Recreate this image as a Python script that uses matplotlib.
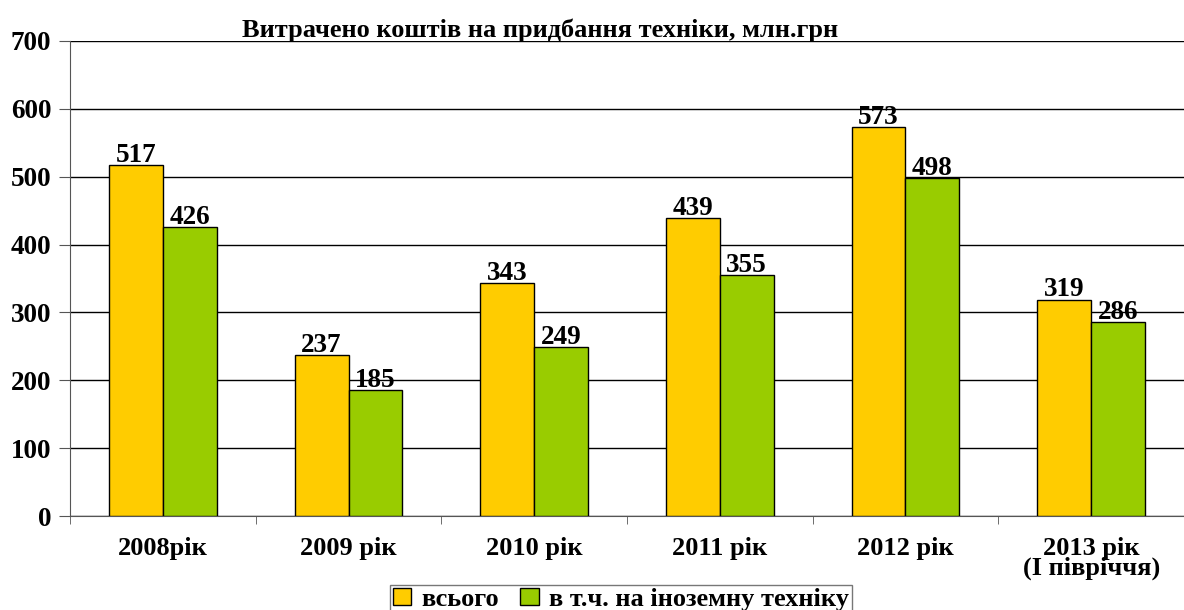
import numpy as np
import matplotlib
matplotlib.use("Agg")
import matplotlib.pyplot as plt

categories = ["2008рік", "2009 рік", "2010 рік", "2011 рік", "2012 рік", "2013 рік\n(І півріччя)"]
total = [517, 237, 343, 439, 573, 319]
foreign = [426, 185, 249, 355, 498, 286]
series_names = ["всього", "в т.ч. на іноземну техніку"]

plt.rcParams['font.family'] = ['Liberation Serif', 'DejaVu Serif']
plt.rcParams['font.weight'] = 'bold'

fig = plt.figure(figsize=(11.84, 6.10), dpi=100)
ax = fig.add_axes([70 / 1184, 1 - 516 / 610, 1 - 70 / 1184, (516 - 41) / 610])

x = np.arange(len(categories))
w = 0.29
b1 = ax.bar(x - w / 2, total, w, color='#FFCC00', edgecolor='black', linewidth=1, label=series_names[0], zorder=3)
b2 = ax.bar(x + w / 2, foreign, w, color='#99CC00', edgecolor='black', linewidth=1, label=series_names[1], zorder=3)

for bars, vals in ((b1, total), (b2, foreign)):
    for r, v in zip(bars, vals):
        ax.text(r.get_x() + r.get_width() / 2, v - 4, str(v), ha='center', va='bottom',
                fontsize=19.5, fontweight='bold', zorder=4)

ax.set_xlim(-0.5, len(categories) - 0.5)
ax.set_ylim(0, 700)
ax.set_yticks(range(0, 701, 100))
ax.yaxis.grid(True, color='black', linewidth=1, zorder=0)
ax.set_xticks(x)
ax.set_xticklabels(categories, fontsize=19, fontweight='bold', linespacing=0.83)
ax.set_xticks(np.arange(-0.5, len(categories), 1), minor=True)
ax.tick_params(axis='x', which='major', length=0, pad=15)
ax.tick_params(axis='x', which='minor', length=6, color='#555555')
ax.tick_params(axis='y', length=8, color='#555555', labelsize=19.5, pad=5.5)
for lbl in ax.get_yticklabels():
    lbl.set_fontweight('bold')

for s in ['top', 'right']:
    ax.spines[s].set_visible(False)
ax.spines['left'].set_color('#555555')
ax.spines['bottom'].set_color('#555555')

fig.text(540 / 1184, 1 - 30 / 610, "Витрачено коштів на придбання техніки, млн.грн",
         ha='center', va='center', fontsize=19, fontweight='bold')

leg = fig.legend(loc='upper center', bbox_to_anchor=(621 / 1184, 1 - 585 / 610), ncol=2,
                 fontsize=19, frameon=True, fancybox=False, edgecolor='#555555',
                 handlelength=0.7, handleheight=0.6, handletextpad=0.4, columnspacing=0.8,
                 borderpad=0.1, borderaxespad=0)
leg.get_frame().set_linewidth(1)

fig.savefig("out.png", dpi=100)
